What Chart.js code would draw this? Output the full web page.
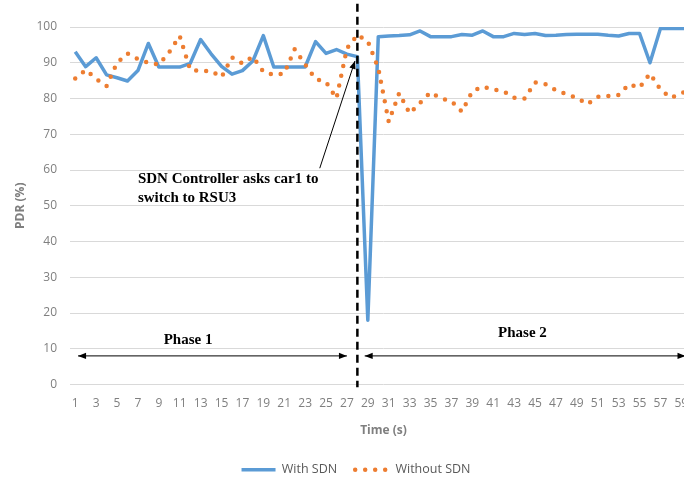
<!DOCTYPE html>
<html>
<head>
<meta charset="utf-8">
<script src="https://cdn.jsdelivr.net/npm/chart.js@4.4.1/dist/chart.umd.min.js"></script>
<style>
  html, body { margin: 0; padding: 0; background: #fff; overflow: hidden; }
  #wrap { width: 712px; height: 486px; }
</style>
</head>
<body>
<div id="wrap"><canvas id="myChart"></canvas></div>
<script>
const seconds = [1, 2, 3, 4, 5, 6, 7, 8, 9, 10, 11, 12, 13, 14, 15, 16, 17, 18, 19, 20,
  21, 22, 23, 24, 25, 26, 27, 28, 29, 30, 31, 32, 33, 34, 35, 36, 37, 38, 39, 40,
  41, 42, 43, 44, 45, 46, 47, 48, 49, 50, 51, 52, 53, 54, 55, 56, 57, 58, 59, 60];

const withSdn = [93.1, 88.9, 91.4, 86.6, 85.8, 84.9, 87.8, 95.4, 88.8, 88.8,
  88.8, 89.8, 96.5, 92.5, 89, 86.8, 87.8, 90.5, 97.6, 88.8,
  88.8, 88.8, 88.8, 95.9, 92.6, 93.7, 92.4, 91.7, 18, 97.3,
  97.5, 97.6, 97.8, 98.9, 97.3, 97.3, 97.3, 97.9, 97.7, 98.9,
  97.3, 97.3, 98.2, 97.9, 98.2, 97.6, 97.7, 97.9, 98, 98,
  98, 97.7, 97.5, 98.2, 98.2, 90, 99.6, 99.6, 99.6, 99.6];

const withoutSdn = [85.6, 88, 85.5, 83.5, 90, 92.6, 91, 90, 89.5, 93,
  97.5, 88, 87.7, 87.7, 86, 91.5, 89.8, 91.7, 87.5, 86.6,
  87, 93.8, 89.5, 85.5, 84.6, 80, 94, 97.8, 96, 88.5,
  73.5, 81.5, 75.8, 78.8, 81.7, 80, 79.3, 76.3, 82, 83.3,
  82.5, 82, 80.2, 80, 84.5, 84, 82.3, 81.2, 80.2, 78.4,
  80.5, 80.7, 81, 84, 83, 87, 82.5, 80.2, 81.5, 82.5];

// annotation anchors, in axis units (category index / PDR value)
const switchIndex = 27;
const phaseArrowY = 8;

const chartColors = {
  blue: "#5B9BD5",
  orange: "#ED7D31",
  grid: "#D9D9D9",
  text: "#7F7F7F",
};

function arrowHead(ctx, x1, y1, x2, y2, size) {
  const a = Math.atan2(y2 - y1, x2 - x1);
  const w = size * 0.4;
  ctx.beginPath();
  ctx.moveTo(x2, y2);
  ctx.lineTo(x2 - size * Math.cos(a) + w * Math.sin(a), y2 - size * Math.sin(a) - w * Math.cos(a));
  ctx.lineTo(x2 - size * Math.cos(a) - w * Math.sin(a), y2 - size * Math.sin(a) + w * Math.cos(a));
  ctx.closePath();
  ctx.fill();
}

function arrow(ctx, x1, y1, x2, y2, both) {
  ctx.beginPath();
  ctx.moveTo(x1, y1);
  ctx.lineTo(x2, y2);
  ctx.stroke();
  arrowHead(ctx, x1, y1, x2, y2, 8);
  if (both) arrowHead(ctx, x2, y2, x1, y1, 8);
}

const annotations = {
  id: "annotations",
  afterDatasetsDraw: (chart) => {
    const { ctx } = chart;
    const x = chart.scales.x;
    const y = chart.scales.y;
    ctx.save();

    // switch moment
    const sx = x.getPixelForValue(switchIndex);
    ctx.strokeStyle = "#000";
    ctx.lineWidth = 2.5;
    ctx.setLineDash([8, 5]);
    ctx.beginPath();
    ctx.moveTo(sx, y.getPixelForValue(106.5));
    ctx.lineTo(sx, y.getPixelForValue(-0.8));
    ctx.stroke();
    ctx.setLineDash([]);

    // phase arrows
    ctx.lineWidth = 1;
    ctx.fillStyle = "#000";
    const py = y.getPixelForValue(phaseArrowY);
    arrow(ctx, x.getPixelForValue(0.27), py, x.getPixelForValue(26), py, true);
    arrow(ctx, x.getPixelForValue(27.7), py, x.getPixelForValue(58.4), py, true);

    // pointer to the switch point
    arrow(ctx, x.getPixelForValue(23.4), y.getPixelForValue(60.5),
      x.getPixelForValue(26.77), y.getPixelForValue(90.5), false);

    ctx.font = "bold 15px 'Liberation Serif'";
    ctx.textBaseline = "middle";
    ctx.textAlign = "center";
    ctx.fillText("Phase 1", x.getPixelForValue(10.8), y.getPixelForValue(12.3));
    ctx.fillText("Phase 2", x.getPixelForValue(42.8), y.getPixelForValue(14.3));
    ctx.textAlign = "left";
    ctx.fillText("SDN Controller asks car1 to", x.getPixelForValue(6.0), y.getPixelForValue(57.4));
    ctx.fillText("switch to RSU3", x.getPixelForValue(6.0), y.getPixelForValue(52.1));
    ctx.restore();
  },
};

const data = {
  labels: seconds,
  datasets: [
    {
      label: "With SDN",
      data: withSdn,
      borderColor: chartColors.blue,
      backgroundColor: chartColors.blue,
      borderWidth: 3.5,
      borderJoinStyle: "round",
      pointRadius: 0,
      order: 2,
    },
    {
      label: "Without SDN",
      data: withoutSdn,
      borderColor: chartColors.orange,
      backgroundColor: chartColors.orange,
      borderWidth: 4.5,
      borderDash: [0, 10],
      borderCapStyle: "round",
      pointRadius: 0,
      order: 1,
    },
  ],
};

const config = {
  type: "line",
  data: data,
  plugins: [annotations],
  options: {
    responsive: true,
    maintainAspectRatio: false,
    animation: false,
    layout: { padding: { top: 27, left: 0, right: 0, bottom: 0 } },
    plugins: {
      tooltip: { enabled: false },
      legend: {
        position: "bottom",
        labels: {
          usePointStyle: true,
          pointStyle: "line",
          pointStyleWidth: 34,
          padding: 18,
          color: "#595959",
          font: { family: "'Open Sans'", size: 12.5 },
          sort: (a, b) => a.datasetIndex - b.datasetIndex,
          generateLabels: (chart) => {
            const items = Chart.defaults.plugins.legend.labels.generateLabels(chart);
            items.forEach((item) => {
              const ds = chart.data.datasets[item.datasetIndex];
              item.lineDash = ds.borderDash || [];
              item.lineCap = ds.borderCapStyle || "butt";
              item.lineWidth = ds.borderWidth;
              item.strokeStyle = ds.borderColor;
            });
            return items;
          },
        },
      },
    },
    scales: {
      x: {
        offset: true,
        grid: { display: false },
        border: { display: false },
        ticks: {
          autoSkip: false,
          maxRotation: 0,
          padding: 4,
          color: chartColors.text,
          font: { family: "'Open Sans'", size: 12 },
          callback: function (val, i) {
            return i % 2 === 0 ? this.getLabelForValue(val) : "";
          },
        },
        title: {
          display: true,
          text: "Time (s)",
          color: chartColors.text,
          font: { family: "'Open Sans'", size: 12, weight: "bold" },
          padding: { top: 0, bottom: 8 },
        },
        afterFit: (scale) => { scale.height = 61; },
      },
      y: {
        min: 0,
        max: 100,
        grid: { color: chartColors.grid, drawTicks: false },
        border: { display: false },
        ticks: {
          stepSize: 10,
          padding: 13,
          color: chartColors.text,
          font: { family: "'Open Sans'", size: 12 },
        },
        title: {
          display: true,
          text: "PDR (%)",
          color: chartColors.text,
          font: { family: "'Open Sans'", size: 12, weight: "bold" },
          padding: { top: 13, bottom: 0 },
        },
        afterFit: (scale) => { scale.width = 70; },
      },
      yRight: {
        position: "right",
        grid: { display: false },
        border: { display: false },
        ticks: { display: false },
        afterFit: (scale) => { scale.width = 15; },
      },
    },
  },
};

var myChart = new Chart(document.getElementById("myChart"), config);
</script>
</body>
</html>
